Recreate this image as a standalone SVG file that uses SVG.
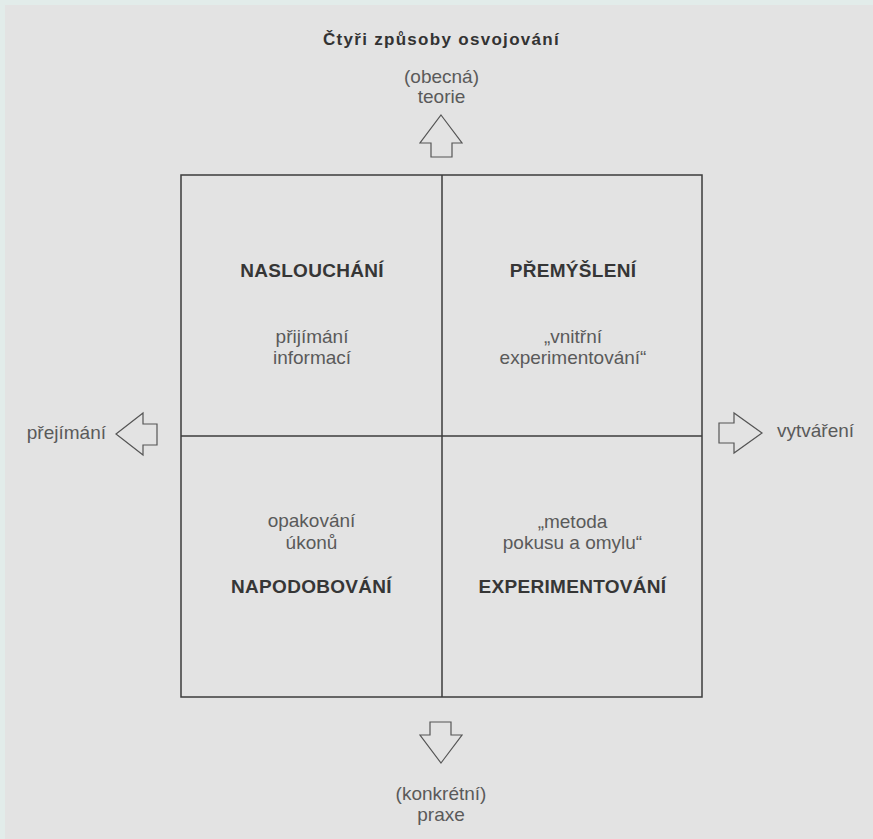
<svg xmlns="http://www.w3.org/2000/svg" width="873" height="839" viewBox="0 0 873 839">
  <style>
    .bg { fill: #e3e3e3; }
    .edge { fill: #e2ecea; }
    .grid { fill: none; stroke: #3c3c3c; stroke-width: 1.5; }
    .arrow { fill: none; stroke: #555555; stroke-width: 1.2; stroke-linejoin: miter; }
    .title { font-family: "Liberation Sans", Arial, sans-serif; font-weight: bold; font-size: 17px; letter-spacing: 1.3px; fill: #333333; text-anchor: middle; }
    .head { font-family: "Liberation Sans", Arial, sans-serif; font-weight: bold; font-size: 19px; letter-spacing: 0.3px; fill: #363636; text-anchor: middle; }
    .sub { font-family: "Liberation Sans", Arial, sans-serif; font-size: 19px; fill: #5a5a5a; text-anchor: middle; }
  </style>

  <rect class="bg" x="0" y="0" width="873" height="839"/>
  <rect class="edge" x="0" y="0" width="873" height="5"/>
  <rect class="edge" x="0" y="0" width="5" height="839"/>

  <text id="title" class="title" x="441.5" y="45">Čtyři způsoby osvojování</text>

  <g id="grid">
    <rect class="grid" x="181" y="175" width="521" height="522"/>
    <line class="grid" x1="442" y1="175" x2="442" y2="697"/>
    <line class="grid" x1="181" y1="436" x2="702" y2="436"/>
  </g>

  <g id="naslouchani">
    <text class="head" x="312" y="277">NASLOUCHÁNÍ</text>
    <text class="sub" x="312" y="343">přijímání</text>
    <text class="sub" x="312" y="364">informací</text>
  </g>

  <g id="premysleni">
    <text class="head" x="573" y="277">PŘEMÝŠLENÍ</text>
    <text class="sub" x="573" y="343">„vnitřní</text>
    <text class="sub" x="573" y="364">experimentování“</text>
  </g>

  <g id="napodobovani">
    <text class="sub" x="311.5" y="527">opakování</text>
    <text class="sub" x="311.5" y="549">úkonů</text>
    <text class="head" x="311.5" y="593">NAPODOBOVÁNÍ</text>
  </g>

  <g id="experimentovani">
    <text class="sub" x="572.5" y="528">„metoda</text>
    <text class="sub" x="572.5" y="549">pokusu a omylu“</text>
    <text class="head" x="572.5" y="593">EXPERIMENTOVÁNÍ</text>
  </g>

  <g id="connectors">
    <g id="arrow-teorie">
      <path class="arrow" d="M441,115 L462,143 L452,143 L452,157 L431,157 L431,143 L420,143 Z"/>
    </g>
    <g id="arrow-prejimani">
      <path class="arrow" d="M116,434 L143,413 L143,424 L157,424 L157,445 L143,445 L143,455 Z"/>
    </g>
    <g id="arrow-vytvareni">
      <path class="arrow" d="M762,433 L734,413 L734,423 L719,423 L719,443 L734,443 L734,453 Z"/>
    </g>
    <g id="arrow-praxe">
      <path class="arrow" d="M441,763 L462,735 L451,735 L451,722 L430,722 L430,735 L420,735 Z"/>
    </g>
  </g>

  <g id="teorie">
    <text class="sub" x="441.5" y="83">(obecná)</text>
    <text class="sub" x="441.5" y="103">teorie</text>
  </g>

  <g id="prejimani">
    <text class="sub" x="106" y="439" style="text-anchor:end">přejímání</text>
  </g>

  <g id="vytvareni">
    <text class="sub" x="777" y="437" style="text-anchor:start">vytváření</text>
  </g>

  <g id="praxe">
    <text class="sub" x="441" y="800">(konkrétní)</text>
    <text class="sub" x="441" y="821">praxe</text>
  </g>
</svg>
